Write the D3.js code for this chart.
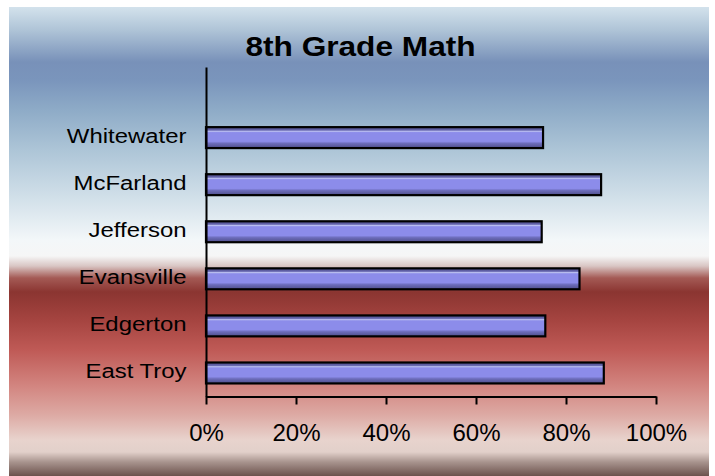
<!DOCTYPE html>
<html>
<head>
<meta charset="utf-8">
<script src="https://cdn.jsdelivr.net/npm/d3@7"></script>
<style>
  body { margin: 0; background: #fff; }
  text { font-family: "Liberation Sans", Arial, sans-serif; fill: #000; }
</style>
</head>
<body>
<script>
// schools, bottom to top; the blank one is the empty row at the top of the sheet
var schools = ["East Troy", "Edgerton", "Evansville", "Jefferson", "McFarland", "Whitewater", ""];
var scores = [0.884, 0.754, 0.830, 0.746, 0.878, 0.749, null];
var tickValues = [0, 0.2, 0.4, 0.6, 0.8, 1];
var title = "8th Grade Math";

var W = 715, H = 476;
var plot = { left: 206, right: 656, top: 67, bottom: 396.5 };

var svg = d3.select("body").append("svg")
  .attr("width", W)
  .attr("height", H);

var defs = svg.append("defs");

// background: blue sky into a red band
var bg = defs.append("linearGradient")
  .attr("id", "bg")
  .attr("x1", 0).attr("y1", 0).attr("x2", 0).attr("y2", 1);
var bgTop = 7, bgH = H - bgTop;
[
  [7, "#d3e2ec"], [30, "#afc4d7"], [62, "#7891b9"], [80, "#7a95bc"],
  [110, "#8eabc7"], [150, "#adc5d7"], [200, "#d3e1ea"], [240, "#f3f7f9"],
  [256, "#f6f6f6"], [266, "#d9c6c4"], [278, "#a45a55"], [292, "#8b3531"],
  [320, "#a54440"], [350, "#bf5a56"], [385, "#d2847f"], [415, "#ddaaa4"],
  [440, "#e8d3cd"], [452, "#e2d0ca"], [462, "#a8948e"], [476, "#6c524d"]
].forEach(function(s) {
  bg.append("stop")
    .attr("offset", (s[0] - bgTop) / bgH)
    .attr("stop-color", s[1]);
});

var barGrad = defs.append("linearGradient")
  .attr("id", "bar")
  .attr("x1", 0).attr("y1", 0).attr("x2", 0).attr("y2", 1);
[
  [0, "#4c4c86"], [0.14, "#6464ac"], [0.2, "#b9bef0"], [0.26, "#8c8cea"],
  [0.68, "#8c8cea"], [0.78, "#6c6cba"], [1, "#4e4e8a"]
].forEach(function(s) {
  barGrad.append("stop").attr("offset", s[0]).attr("stop-color", s[1]);
});

svg.append("rect")
  .attr("x", 9)
  .attr("y", bgTop)
  .attr("width", 700)
  .attr("height", bgH)
  .attr("fill", "url(#bg)");

var x = d3.scaleLinear()
  .domain([0, 1])
  .range([plot.left, plot.right]);

var y = d3.scaleBand()
  .domain(schools)
  .range([plot.bottom, plot.top])
  .paddingInner(0.555)
  .paddingOuter(0.2775);

svg.append("text")
  .attr("transform", "translate(360.5,56) scale(1.13,1)")
  .attr("text-anchor", "middle")
  .style("font-size", "28px")
  .style("font-weight", "bold")
  .text(title);

// bars
svg.append("g")
  .selectAll("rect")
  .data(schools.map(function(s, i) { return { school: s, score: scores[i] }; })
    .filter(function(d) { return d.score != null; }))
  .join("rect")
  .attr("x", x(0))
  .attr("y", function(d) { return y(d.school); })
  .attr("width", function(d) { return x(d.score) - x(0); })
  .attr("height", y.bandwidth())
  .attr("fill", "url(#bar)")
  .attr("stroke", "#000")
  .attr("stroke-width", 2.2);

// x axis
var xAxis = svg.append("g")
  .attr("transform", "translate(0," + plot.bottom + ")")
  .call(d3.axisBottom(x)
    .tickValues(tickValues)
    .tickFormat(d3.format(".0%"))
    .tickSize(8)
    .tickSizeOuter(0)
    .tickPadding(19));
xAxis.select(".domain").attr("stroke", "#000").attr("stroke-width", 2);
xAxis.selectAll(".tick line").attr("stroke", "#000").attr("stroke-width", 2);
xAxis.selectAll(".tick text")
  .attr("font-family", null)
  .attr("font-size", null)
  .style("font-size", "24px");

// y axis, labels only
var yAxis = svg.append("g")
  .attr("transform", "translate(" + plot.left + ",0)")
  .call(d3.axisLeft(y).tickSize(0).tickSizeOuter(0).tickPadding(0));
yAxis.select(".domain").attr("stroke", "#000").attr("stroke-width", 2);
yAxis.selectAll(".tick text")
  .attr("font-family", null)
  .attr("font-size", null)
  .style("font-size", "21px")
  .attr("x", -19.5 / 1.14)
  .attr("dy", "0.25em")
  .attr("transform", "scale(1.14,1)");
</script>
</body>
</html>
